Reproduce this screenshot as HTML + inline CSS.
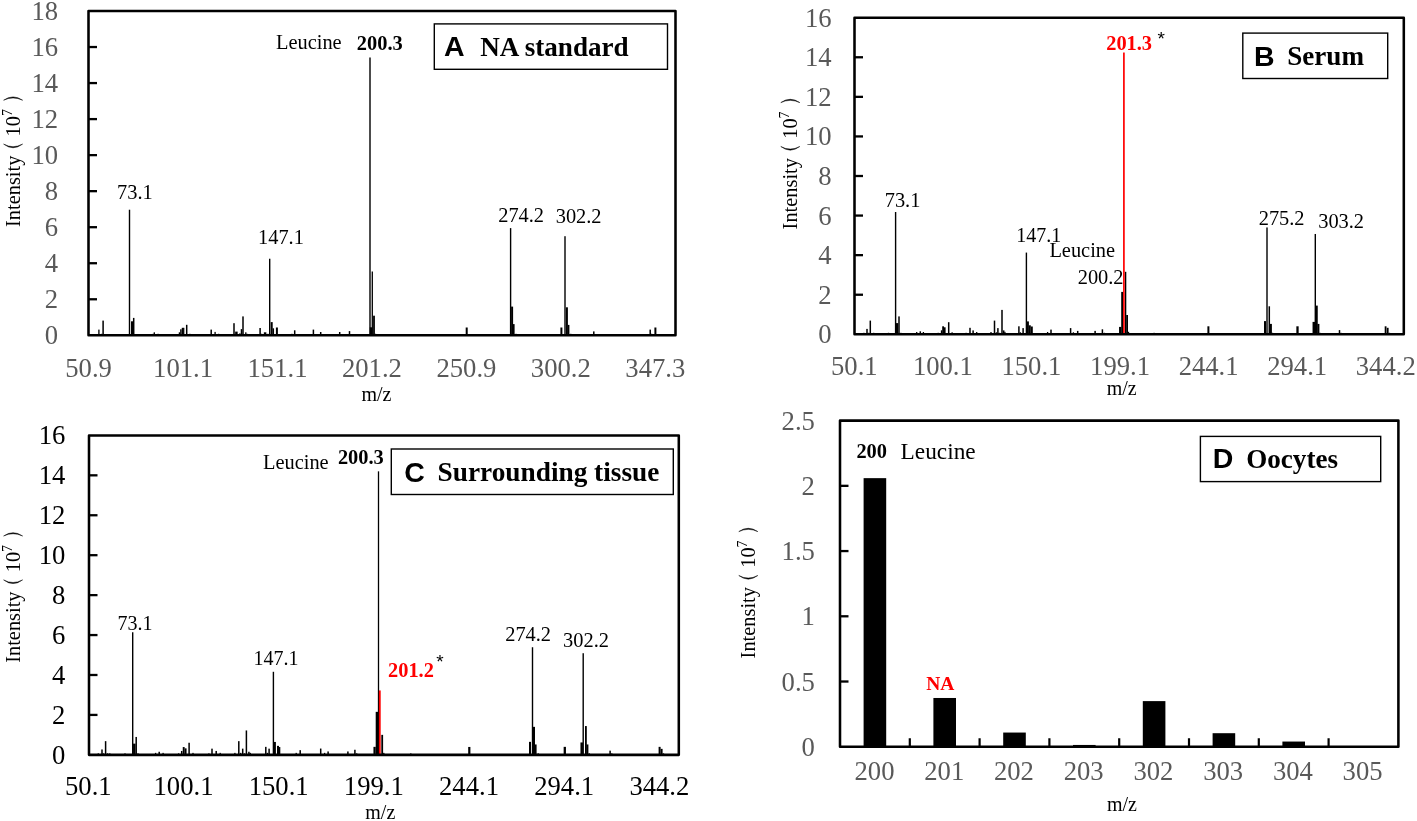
<!DOCTYPE html>
<html>
<head>
<meta charset="utf-8">
<title>Mass spectra</title>
<style>
html,body{margin:0;padding:0;background:#fff;}
body{width:1417px;height:821px;overflow:hidden;font-family:"Liberation Serif",serif;}
svg{display:block;will-change:transform;}
</style>
</head>
<body>
<svg width="1417" height="821" viewBox="0 0 1417 821">
<rect x="0" y="0" width="1417" height="821" fill="#ffffff"/>
<g id="panelA">
<rect x="98.25" y="329.6" width="1.3" height="5.7" fill="#000"/>
<rect x="101.05" y="333.8" width="1.3" height="1.5" fill="#000"/>
<rect x="102.35" y="320.6" width="1.5" height="14.7" fill="#000"/>
<rect x="104.15" y="334.3" width="1.3" height="1" fill="#000"/>
<rect x="128.8" y="209.72" width="1.4" height="125.58" fill="#000"/>
<rect x="131" y="321.3" width="2" height="14" fill="#000"/>
<rect x="132.95" y="317.9" width="1.5" height="17.4" fill="#000"/>
<rect x="152.55" y="333.8" width="1.3" height="1.5" fill="#000"/>
<rect x="153.65" y="332.3" width="1.3" height="3" fill="#000"/>
<rect x="157.45" y="333.8" width="1.3" height="1.5" fill="#000"/>
<rect x="178.75" y="332.3" width="1.3" height="3" fill="#000"/>
<rect x="180.15" y="329.3" width="1.5" height="6" fill="#000"/>
<rect x="181.75" y="327.8" width="1.5" height="7.5" fill="#000"/>
<rect x="183.05" y="327.8" width="1.3" height="7.5" fill="#000"/>
<rect x="185.95" y="324.8" width="1.5" height="10.5" fill="#000"/>
<rect x="189.25" y="333.8" width="1.3" height="1.5" fill="#000"/>
<rect x="210.45" y="329.6" width="1.5" height="5.7" fill="#000"/>
<rect x="214.45" y="331.9" width="1.3" height="3.4" fill="#000"/>
<rect x="217.95" y="333.8" width="1.3" height="1.5" fill="#000"/>
<rect x="233.25" y="323.2" width="1.5" height="12.1" fill="#000"/>
<rect x="235.15" y="331.6" width="2.5" height="3.7" fill="#000"/>
<rect x="239.25" y="333.3" width="1.3" height="2" fill="#000"/>
<rect x="240.75" y="329.1" width="1.5" height="6.2" fill="#000"/>
<rect x="242.25" y="316.4" width="1.5" height="18.9" fill="#000"/>
<rect x="245.15" y="332.3" width="1.3" height="3" fill="#000"/>
<rect x="246.35" y="333.8" width="1.3" height="1.5" fill="#000"/>
<rect x="259.35" y="328" width="1.5" height="7.3" fill="#000"/>
<rect x="260.95" y="333.8" width="1.3" height="1.5" fill="#000"/>
<rect x="263.85" y="332.3" width="2.5" height="3" fill="#000"/>
<rect x="267.25" y="333.8" width="1.3" height="1.5" fill="#000"/>
<rect x="269" y="258.73" width="1.4" height="76.57" fill="#000"/>
<rect x="270.7" y="322.1" width="2" height="13.2" fill="#000"/>
<rect x="272.55" y="328.3" width="1.5" height="7" fill="#000"/>
<rect x="275.9" y="327.5" width="2" height="7.8" fill="#000"/>
<rect x="291.25" y="333.8" width="1.3" height="1.5" fill="#000"/>
<rect x="293.95" y="330.3" width="1.5" height="5" fill="#000"/>
<rect x="312.65" y="329.6" width="1.5" height="5.7" fill="#000"/>
<rect x="319.95" y="332" width="1.5" height="3.3" fill="#000"/>
<rect x="338.95" y="332" width="1.5" height="3.3" fill="#000"/>
<rect x="348.75" y="331.1" width="1.5" height="4.2" fill="#000"/>
<rect x="369.3" y="57.48" width="1.4" height="277.82" fill="#000"/>
<rect x="369.75" y="327.3" width="2.5" height="8" fill="#000"/>
<rect x="371.65" y="271.5" width="1.3" height="63.8" fill="#000"/>
<rect x="373.1" y="315.7" width="1.8" height="19.6" fill="#000"/>
<rect x="374.85" y="333.8" width="1.3" height="1.5" fill="#000"/>
<rect x="465.7" y="327.5" width="2" height="7.8" fill="#000"/>
<rect x="509.9" y="228.1" width="1.4" height="107.2" fill="#000"/>
<rect x="511.1" y="306.6" width="2" height="28.7" fill="#000"/>
<rect x="512.8" y="324.1" width="1.8" height="11.2" fill="#000"/>
<rect x="515.35" y="333.8" width="1.3" height="1.5" fill="#000"/>
<rect x="560.4" y="327.5" width="2" height="7.8" fill="#000"/>
<rect x="564.3" y="236.21" width="1.4" height="99.09" fill="#000"/>
<rect x="565.9" y="307.3" width="2" height="28" fill="#000"/>
<rect x="567.6" y="324.9" width="1.8" height="10.4" fill="#000"/>
<rect x="570.15" y="333.8" width="1.3" height="1.5" fill="#000"/>
<rect x="593.05" y="331.4" width="1.5" height="3.9" fill="#000"/>
<rect x="649.45" y="329.6" width="1.5" height="5.7" fill="#000"/>
<rect x="650.95" y="333.8" width="1.3" height="1.5" fill="#000"/>
<rect x="654.4" y="327.5" width="2" height="7.8" fill="#000"/>
<rect x="88.5" y="11" width="587" height="324.3" fill="none" stroke="#000" stroke-width="2.55" stroke-linejoin="round"/>
<line x1="88.5" y1="299.27" x2="97" y2="299.27" stroke="#000" stroke-width="2.3"/>
<line x1="88.5" y1="263.23" x2="97" y2="263.23" stroke="#000" stroke-width="2.3"/>
<line x1="88.5" y1="227.2" x2="97" y2="227.2" stroke="#000" stroke-width="2.3"/>
<line x1="88.5" y1="191.17" x2="97" y2="191.17" stroke="#000" stroke-width="2.3"/>
<line x1="88.5" y1="155.13" x2="97" y2="155.13" stroke="#000" stroke-width="2.3"/>
<line x1="88.5" y1="119.1" x2="97" y2="119.1" stroke="#000" stroke-width="2.3"/>
<line x1="88.5" y1="83.07" x2="97" y2="83.07" stroke="#000" stroke-width="2.3"/>
<line x1="88.5" y1="47.03" x2="97" y2="47.03" stroke="#000" stroke-width="2.3"/>
<text x="58.2" y="344.3" font-size="26.67" text-anchor="end" fill="#595959" font-family="'Liberation Serif', serif">0</text>
<text x="58.2" y="308.27" font-size="26.67" text-anchor="end" fill="#595959" font-family="'Liberation Serif', serif">2</text>
<text x="58.2" y="272.23" font-size="26.67" text-anchor="end" fill="#595959" font-family="'Liberation Serif', serif">4</text>
<text x="58.2" y="236.2" font-size="26.67" text-anchor="end" fill="#595959" font-family="'Liberation Serif', serif">6</text>
<text x="58.2" y="200.17" font-size="26.67" text-anchor="end" fill="#595959" font-family="'Liberation Serif', serif">8</text>
<text x="58.2" y="164.13" font-size="26.67" text-anchor="end" fill="#595959" font-family="'Liberation Serif', serif">10</text>
<text x="58.2" y="128.1" font-size="26.67" text-anchor="end" fill="#595959" font-family="'Liberation Serif', serif">12</text>
<text x="58.2" y="92.07" font-size="26.67" text-anchor="end" fill="#595959" font-family="'Liberation Serif', serif">14</text>
<text x="58.2" y="56.03" font-size="26.67" text-anchor="end" fill="#595959" font-family="'Liberation Serif', serif">16</text>
<text x="58.2" y="20" font-size="26.67" text-anchor="end" fill="#595959" font-family="'Liberation Serif', serif">18</text>
<text x="88.6" y="376.6" font-size="26.67" text-anchor="middle" fill="#595959" font-family="'Liberation Serif', serif">50.9</text>
<text x="183.05" y="376.6" font-size="26.67" text-anchor="middle" fill="#595959" font-family="'Liberation Serif', serif">101.1</text>
<text x="277.5" y="376.6" font-size="26.67" text-anchor="middle" fill="#595959" font-family="'Liberation Serif', serif">151.1</text>
<text x="371.95" y="376.6" font-size="26.67" text-anchor="middle" fill="#595959" font-family="'Liberation Serif', serif">201.2</text>
<text x="466.4" y="376.6" font-size="26.67" text-anchor="middle" fill="#595959" font-family="'Liberation Serif', serif">250.9</text>
<text x="560.85" y="376.6" font-size="26.67" text-anchor="middle" fill="#595959" font-family="'Liberation Serif', serif">300.2</text>
<text x="655.3" y="376.6" font-size="26.67" text-anchor="middle" fill="#595959" font-family="'Liberation Serif', serif">347.3</text>
<text x="376.5" y="400.5" font-size="20" text-anchor="middle" fill="#000" font-family="'Liberation Serif', serif">m/z</text>
<g transform="translate(20,227) rotate(-90)">
<text x="0" y="0" font-size="20.4" text-anchor="start" fill="#000" font-family="'Liberation Serif', serif">Intensity</text>
<text x="90.6" y="0" font-size="20.4" text-anchor="start" fill="#000" font-family="'Liberation Serif', serif">10</text>
<text x="110.9" y="-8.4" font-size="13.6" text-anchor="start" fill="#000" font-family="'Liberation Serif', serif">7</text>
<path d="M82.9,-16.4 Q75.6,-7 82.9,2.6 Q77.7,-7 82.9,-16.4Z" fill="#000" stroke="#000" stroke-width="0.5" stroke-linejoin="round"/>
<path d="M126.8,-16.4 Q133.4,-7 126.8,2.6 Q131.3,-7 126.8,-16.4Z" fill="#000" stroke="#000" stroke-width="0.5" stroke-linejoin="round"/>
</g>
<text x="117" y="198.5" font-size="20.4" text-anchor="start" fill="#000" font-family="'Liberation Serif', serif">73.1</text>
<text x="258" y="243.5" font-size="20.4" text-anchor="start" fill="#000" font-family="'Liberation Serif', serif">147.1</text>
<text x="276" y="49.3" font-size="20.4" text-anchor="start" fill="#000" font-family="'Liberation Serif', serif">Leucine</text>
<text x="356.8" y="49.5" font-size="20.4" text-anchor="start" fill="#000" font-weight="bold" font-family="'Liberation Serif', serif">200.3</text>
<text x="498.2" y="221.8" font-size="20.4" text-anchor="start" fill="#000" font-family="'Liberation Serif', serif">274.2</text>
<text x="555.7" y="223.4" font-size="20.4" text-anchor="start" fill="#000" font-family="'Liberation Serif', serif">302.2</text>
<rect x="434.3" y="23.9" width="233.2" height="45.4" fill="#fff" stroke="#000" stroke-width="1.4"/>
<text x="443.9" y="55.8" font-size="28.5" text-anchor="start" fill="#000" font-weight="bold" font-family="'Liberation Sans', sans-serif">A</text>
<text x="480.3" y="55.8" font-size="27.1" text-anchor="start" fill="#000" font-weight="bold" font-family="'Liberation Serif', serif">NA standard</text>
</g>
<g id="panelB">
<rect x="863.25" y="332.8" width="1.3" height="1.5" fill="#000"/>
<rect x="866.25" y="328.9" width="1.5" height="5.4" fill="#000"/>
<rect x="867.95" y="332.8" width="1.3" height="1.5" fill="#000"/>
<rect x="869.55" y="320.6" width="1.5" height="13.7" fill="#000"/>
<rect x="873.05" y="332.8" width="1.3" height="1.5" fill="#000"/>
<rect x="887.85" y="332.8" width="1.3" height="1.5" fill="#000"/>
<rect x="894.9" y="212.01" width="1.4" height="122.29" fill="#000"/>
<rect x="895.75" y="323.1" width="2.5" height="11.2" fill="#000"/>
<rect x="898.25" y="316.4" width="1.5" height="17.9" fill="#000"/>
<rect x="900.25" y="332.8" width="1.3" height="1.5" fill="#000"/>
<rect x="916.05" y="332" width="1.3" height="2.3" fill="#000"/>
<rect x="919.55" y="331.3" width="1.5" height="3" fill="#000"/>
<rect x="922.75" y="332" width="1.3" height="2.3" fill="#000"/>
<rect x="937.55" y="332.8" width="1.3" height="1.5" fill="#000"/>
<rect x="940.85" y="330.3" width="1.5" height="4" fill="#000"/>
<rect x="942.2" y="326.3" width="1.8" height="8" fill="#000"/>
<rect x="943.8" y="327.3" width="1.8" height="7" fill="#000"/>
<rect x="947.95" y="322.2" width="1.5" height="12.1" fill="#000"/>
<rect x="951.45" y="332.3" width="1.3" height="2" fill="#000"/>
<rect x="965.45" y="332.8" width="1.3" height="1.5" fill="#000"/>
<rect x="969.25" y="327.8" width="1.5" height="6.5" fill="#000"/>
<rect x="972.35" y="330.4" width="1.5" height="3.9" fill="#000"/>
<rect x="976.05" y="332" width="1.3" height="2.3" fill="#000"/>
<rect x="990.35" y="332" width="1.3" height="2.3" fill="#000"/>
<rect x="993.75" y="320.6" width="1.5" height="13.7" fill="#000"/>
<rect x="995.75" y="332.3" width="1.3" height="2" fill="#000"/>
<rect x="997.15" y="328.1" width="1.5" height="6.2" fill="#000"/>
<rect x="998.85" y="332.8" width="1.3" height="1.5" fill="#000"/>
<rect x="1001.25" y="309.9" width="1.5" height="24.4" fill="#000"/>
<rect x="1002.95" y="330.4" width="1.5" height="3.9" fill="#000"/>
<rect x="1004.25" y="331.8" width="1.3" height="2.5" fill="#000"/>
<rect x="1018.15" y="326.3" width="1.5" height="8" fill="#000"/>
<rect x="1019.75" y="332.3" width="1.3" height="2" fill="#000"/>
<rect x="1022.35" y="328.1" width="1.5" height="6.2" fill="#000"/>
<rect x="1025.7" y="252.58" width="1.4" height="81.72" fill="#000"/>
<rect x="1026.9" y="321.4" width="2" height="12.9" fill="#000"/>
<rect x="1028.8" y="325.3" width="2" height="9" fill="#000"/>
<rect x="1030.8" y="326.5" width="2" height="7.8" fill="#000"/>
<rect x="1046.95" y="332" width="1.3" height="2.3" fill="#000"/>
<rect x="1050.25" y="329.6" width="1.5" height="4.7" fill="#000"/>
<rect x="1069.85" y="328.1" width="1.5" height="6.2" fill="#000"/>
<rect x="1072.75" y="332.3" width="1.3" height="2" fill="#000"/>
<rect x="1076.95" y="330.9" width="1.5" height="3.4" fill="#000"/>
<rect x="1094.35" y="330.9" width="1.5" height="3.4" fill="#000"/>
<rect x="1101.65" y="329.3" width="1.5" height="5" fill="#000"/>
<rect x="1103.75" y="332.8" width="1.3" height="1.5" fill="#000"/>
<rect x="1153.45" y="332.8" width="1.3" height="1.5" fill="#000"/>
<rect x="1207.4" y="326.3" width="2" height="8" fill="#000"/>
<rect x="1264" y="321.1" width="2" height="13.2" fill="#000"/>
<rect x="1266.3" y="227.45" width="1.4" height="106.85" fill="#000"/>
<rect x="1268.55" y="306.3" width="1.5" height="28" fill="#000"/>
<rect x="1269.9" y="323.9" width="2" height="10.4" fill="#000"/>
<rect x="1271.85" y="332.8" width="1.3" height="1.5" fill="#000"/>
<rect x="1296.35" y="326.3" width="2.3" height="8" fill="#000"/>
<rect x="1312.55" y="321.9" width="2.5" height="12.4" fill="#000"/>
<rect x="1314.6" y="233.98" width="1.4" height="100.32" fill="#000"/>
<rect x="1315.45" y="305.6" width="2.3" height="28.7" fill="#000"/>
<rect x="1317.4" y="323.9" width="2" height="10.4" fill="#000"/>
<rect x="1319.35" y="332.8" width="1.3" height="1.5" fill="#000"/>
<rect x="1338.75" y="330.1" width="1.5" height="4.2" fill="#000"/>
<rect x="1340.35" y="332.8" width="1.3" height="1.5" fill="#000"/>
<rect x="1384.7" y="326.3" width="1.8" height="8" fill="#000"/>
<rect x="1386.8" y="327.8" width="1.8" height="6.5" fill="#000"/>
<rect x="1388.85" y="332.8" width="1.3" height="1.5" fill="#000"/>
<rect x="1119.05" y="326.9" width="2.3" height="7.4" fill="#000"/>
<rect x="1121.2" y="291.9" width="2" height="42.4" fill="#000"/>
<rect x="1124.9" y="271.8" width="1.4" height="62.5" fill="#000"/>
<rect x="1126.2" y="315" width="1.8" height="19.3" fill="#000"/>
<rect x="1127.85" y="331.8" width="1.3" height="2.5" fill="#000"/>
<rect x="1123.05" y="52.53" width="1.7" height="281.77" fill="#f00"/>
<rect x="854.5" y="17.7" width="549.3" height="316.6" fill="none" stroke="#000" stroke-width="2.55" stroke-linejoin="round"/>
<line x1="854.5" y1="294.73" x2="863" y2="294.73" stroke="#000" stroke-width="2.3"/>
<line x1="854.5" y1="255.15" x2="863" y2="255.15" stroke="#000" stroke-width="2.3"/>
<line x1="854.5" y1="215.57" x2="863" y2="215.57" stroke="#000" stroke-width="2.3"/>
<line x1="854.5" y1="176" x2="863" y2="176" stroke="#000" stroke-width="2.3"/>
<line x1="854.5" y1="136.43" x2="863" y2="136.43" stroke="#000" stroke-width="2.3"/>
<line x1="854.5" y1="96.85" x2="863" y2="96.85" stroke="#000" stroke-width="2.3"/>
<line x1="854.5" y1="57.27" x2="863" y2="57.27" stroke="#000" stroke-width="2.3"/>
<text x="831.6" y="343.3" font-size="26.67" text-anchor="end" fill="#595959" font-family="'Liberation Serif', serif">0</text>
<text x="831.6" y="303.73" font-size="26.67" text-anchor="end" fill="#595959" font-family="'Liberation Serif', serif">2</text>
<text x="831.6" y="264.15" font-size="26.67" text-anchor="end" fill="#595959" font-family="'Liberation Serif', serif">4</text>
<text x="831.6" y="224.57" font-size="26.67" text-anchor="end" fill="#595959" font-family="'Liberation Serif', serif">6</text>
<text x="831.6" y="185" font-size="26.67" text-anchor="end" fill="#595959" font-family="'Liberation Serif', serif">8</text>
<text x="831.6" y="145.43" font-size="26.67" text-anchor="end" fill="#595959" font-family="'Liberation Serif', serif">10</text>
<text x="831.6" y="105.85" font-size="26.67" text-anchor="end" fill="#595959" font-family="'Liberation Serif', serif">12</text>
<text x="831.6" y="66.27" font-size="26.67" text-anchor="end" fill="#595959" font-family="'Liberation Serif', serif">14</text>
<text x="831.6" y="26.7" font-size="26.67" text-anchor="end" fill="#595959" font-family="'Liberation Serif', serif">16</text>
<text x="854.3" y="374.8" font-size="26.67" text-anchor="middle" fill="#595959" font-family="'Liberation Serif', serif">50.1</text>
<text x="942.88" y="374.8" font-size="26.67" text-anchor="middle" fill="#595959" font-family="'Liberation Serif', serif">100.1</text>
<text x="1031.46" y="374.8" font-size="26.67" text-anchor="middle" fill="#595959" font-family="'Liberation Serif', serif">150.1</text>
<text x="1120.04" y="374.8" font-size="26.67" text-anchor="middle" fill="#595959" font-family="'Liberation Serif', serif">199.1</text>
<text x="1208.62" y="374.8" font-size="26.67" text-anchor="middle" fill="#595959" font-family="'Liberation Serif', serif">244.1</text>
<text x="1297.2" y="374.8" font-size="26.67" text-anchor="middle" fill="#595959" font-family="'Liberation Serif', serif">294.1</text>
<text x="1385.78" y="374.8" font-size="26.67" text-anchor="middle" fill="#595959" font-family="'Liberation Serif', serif">344.2</text>
<text x="1121.7" y="395" font-size="20" text-anchor="middle" fill="#000" font-family="'Liberation Serif', serif">m/z</text>
<g transform="translate(797.2,229.4) rotate(-90)">
<text x="0" y="0" font-size="20.4" text-anchor="start" fill="#000" font-family="'Liberation Serif', serif">Intensity</text>
<text x="90.6" y="0" font-size="20.4" text-anchor="start" fill="#000" font-family="'Liberation Serif', serif">10</text>
<text x="110.9" y="-8.4" font-size="13.6" text-anchor="start" fill="#000" font-family="'Liberation Serif', serif">7</text>
<path d="M82.9,-16.4 Q75.6,-7 82.9,2.6 Q77.7,-7 82.9,-16.4Z" fill="#000" stroke="#000" stroke-width="0.5" stroke-linejoin="round"/>
<path d="M126.8,-16.4 Q133.4,-7 126.8,2.6 Q131.3,-7 126.8,-16.4Z" fill="#000" stroke="#000" stroke-width="0.5" stroke-linejoin="round"/>
</g>
<text x="884.7" y="207.2" font-size="20.4" text-anchor="start" fill="#000" font-family="'Liberation Serif', serif">73.1</text>
<text x="1016.2" y="242.4" font-size="20" text-anchor="start" fill="#000" font-family="'Liberation Serif', serif">147.1</text>
<text x="1049.4" y="257" font-size="20.4" text-anchor="start" fill="#000" font-family="'Liberation Serif', serif">Leucine</text>
<text x="1077.7" y="284" font-size="20.4" text-anchor="start" fill="#000" font-family="'Liberation Serif', serif">200.2</text>
<text x="1106.2" y="50" font-size="20.4" text-anchor="start" fill="#f00" font-weight="bold" font-family="'Liberation Serif', serif">201.3</text>
<text x="1157.6" y="45.4" font-size="19" text-anchor="start" fill="#000" font-family="'Liberation Sans', sans-serif">*</text>
<text x="1258.7" y="224.5" font-size="20.4" text-anchor="start" fill="#000" font-family="'Liberation Serif', serif">275.2</text>
<text x="1318.2" y="227.7" font-size="20.4" text-anchor="start" fill="#000" font-family="'Liberation Serif', serif">303.2</text>
<rect x="1242.8" y="33.1" width="144.9" height="45.4" fill="#fff" stroke="#000" stroke-width="1.4"/>
<text x="1254" y="66.1" font-size="28.5" text-anchor="start" fill="#000" font-weight="bold" font-family="'Liberation Sans', sans-serif">B</text>
<text x="1287.2" y="64.9" font-size="27.1" text-anchor="start" fill="#000" font-weight="bold" font-family="'Liberation Serif', serif">Serum</text>
</g>
<g id="panelC">
<rect x="97.65" y="753.35" width="1.3" height="1.5" fill="#000"/>
<rect x="101.25" y="749.45" width="1.5" height="5.4" fill="#000"/>
<rect x="102.95" y="753.35" width="1.3" height="1.5" fill="#000"/>
<rect x="104.85" y="741.15" width="1.5" height="13.7" fill="#000"/>
<rect x="106.95" y="753.35" width="1.3" height="1.5" fill="#000"/>
<rect x="109.15" y="753.35" width="1.3" height="1.5" fill="#000"/>
<rect x="124.35" y="753.35" width="1.3" height="1.5" fill="#000"/>
<rect x="132" y="632.26" width="1.4" height="122.59" fill="#000"/>
<rect x="133.05" y="743.65" width="2.5" height="11.2" fill="#000"/>
<rect x="135.45" y="736.95" width="1.5" height="17.9" fill="#000"/>
<rect x="137.35" y="753.35" width="1.3" height="1.5" fill="#000"/>
<rect x="154.95" y="752.85" width="1.3" height="2" fill="#000"/>
<rect x="158.45" y="751.75" width="1.5" height="3.1" fill="#000"/>
<rect x="162.45" y="752.85" width="1.3" height="2" fill="#000"/>
<rect x="177.95" y="753.35" width="1.3" height="1.5" fill="#000"/>
<rect x="180.95" y="750.95" width="1.5" height="3.9" fill="#000"/>
<rect x="182.75" y="747.05" width="1.9" height="7.8" fill="#000"/>
<rect x="184.65" y="748.35" width="1.9" height="6.5" fill="#000"/>
<rect x="188.35" y="742.75" width="1.5" height="12.1" fill="#000"/>
<rect x="192.35" y="752.85" width="1.3" height="2" fill="#000"/>
<rect x="208.25" y="753.35" width="1.3" height="1.5" fill="#000"/>
<rect x="211.25" y="748.65" width="1.5" height="6.2" fill="#000"/>
<rect x="215.45" y="750.95" width="1.5" height="3.9" fill="#000"/>
<rect x="219.55" y="752.85" width="1.3" height="2" fill="#000"/>
<rect x="234.25" y="752.85" width="1.3" height="2" fill="#000"/>
<rect x="238.05" y="741.15" width="1.5" height="13.7" fill="#000"/>
<rect x="240.05" y="752.85" width="1.3" height="2" fill="#000"/>
<rect x="241.95" y="748.65" width="1.5" height="6.2" fill="#000"/>
<rect x="243.85" y="753.35" width="1.3" height="1.5" fill="#000"/>
<rect x="245.65" y="730.45" width="1.5" height="24.4" fill="#000"/>
<rect x="248.15" y="751.75" width="1.5" height="3.1" fill="#000"/>
<rect x="249.65" y="752.85" width="1.3" height="2" fill="#000"/>
<rect x="265.05" y="746.85" width="1.5" height="8" fill="#000"/>
<rect x="266.75" y="752.85" width="1.3" height="2" fill="#000"/>
<rect x="268.35" y="748.65" width="1.5" height="6.2" fill="#000"/>
<rect x="272.7" y="671.79" width="1.4" height="83.06" fill="#000"/>
<rect x="273.9" y="741.95" width="2" height="12.9" fill="#000"/>
<rect x="277" y="745.85" width="2" height="9" fill="#000"/>
<rect x="278.3" y="747.05" width="2" height="7.8" fill="#000"/>
<rect x="295.55" y="752.85" width="1.3" height="2" fill="#000"/>
<rect x="299.45" y="750.15" width="1.5" height="4.7" fill="#000"/>
<rect x="319.95" y="748.55" width="1.5" height="6.3" fill="#000"/>
<rect x="323.95" y="752.85" width="1.3" height="2" fill="#000"/>
<rect x="327.35" y="751.45" width="1.5" height="3.4" fill="#000"/>
<rect x="347.15" y="751.45" width="1.5" height="3.4" fill="#000"/>
<rect x="354.15" y="749.75" width="1.5" height="5.1" fill="#000"/>
<rect x="356.05" y="753.35" width="1.3" height="1.5" fill="#000"/>
<rect x="410.15" y="753.35" width="1.3" height="1.5" fill="#000"/>
<rect x="468.2" y="746.95" width="2.2" height="7.9" fill="#000"/>
<rect x="529" y="741.85" width="2" height="13" fill="#000"/>
<rect x="531.8" y="647.24" width="1.4" height="107.61" fill="#000"/>
<rect x="532.8" y="726.85" width="2.2" height="28" fill="#000"/>
<rect x="534.6" y="744.45" width="2" height="10.4" fill="#000"/>
<rect x="537.55" y="753.35" width="1.3" height="1.5" fill="#000"/>
<rect x="563.65" y="746.85" width="2.3" height="8" fill="#000"/>
<rect x="580.45" y="742.45" width="2.5" height="12.4" fill="#000"/>
<rect x="582.5" y="653.22" width="1.4" height="101.63" fill="#000"/>
<rect x="585" y="726.05" width="1.8" height="28.8" fill="#000"/>
<rect x="586.4" y="744.45" width="2" height="10.4" fill="#000"/>
<rect x="588.65" y="753.35" width="1.3" height="1.5" fill="#000"/>
<rect x="609.35" y="750.65" width="1.5" height="4.2" fill="#000"/>
<rect x="611.15" y="753.35" width="1.3" height="1.5" fill="#000"/>
<rect x="658.6" y="746.85" width="2" height="8" fill="#000"/>
<rect x="660.6" y="748.85" width="2" height="6" fill="#000"/>
<rect x="662.85" y="753.35" width="1.3" height="1.5" fill="#000"/>
<rect x="373.45" y="746.85" width="2.3" height="8" fill="#000"/>
<rect x="375.7" y="711.85" width="2.4" height="43" fill="#000"/>
<rect x="377.85" y="471.34" width="1.3" height="283.51" fill="#000"/>
<rect x="381.3" y="734.85" width="1.8" height="20" fill="#000"/>
<rect x="383.15" y="752.85" width="1.3" height="2" fill="#000"/>
<rect x="378.9" y="690.45" width="1.8" height="64.4" fill="#f00"/>
<rect x="89" y="435.4" width="589.8" height="319.45" fill="none" stroke="#000" stroke-width="2.55" stroke-linejoin="round"/>
<line x1="89" y1="714.92" x2="97.5" y2="714.92" stroke="#000" stroke-width="2.3"/>
<line x1="89" y1="674.99" x2="97.5" y2="674.99" stroke="#000" stroke-width="2.3"/>
<line x1="89" y1="635.06" x2="97.5" y2="635.06" stroke="#000" stroke-width="2.3"/>
<line x1="89" y1="595.12" x2="97.5" y2="595.12" stroke="#000" stroke-width="2.3"/>
<line x1="89" y1="555.19" x2="97.5" y2="555.19" stroke="#000" stroke-width="2.3"/>
<line x1="89" y1="515.26" x2="97.5" y2="515.26" stroke="#000" stroke-width="2.3"/>
<line x1="89" y1="475.33" x2="97.5" y2="475.33" stroke="#000" stroke-width="2.3"/>
<text x="65.4" y="763.85" font-size="26.67" text-anchor="end" fill="#000" font-family="'Liberation Serif', serif">0</text>
<text x="65.4" y="723.92" font-size="26.67" text-anchor="end" fill="#000" font-family="'Liberation Serif', serif">2</text>
<text x="65.4" y="683.99" font-size="26.67" text-anchor="end" fill="#000" font-family="'Liberation Serif', serif">4</text>
<text x="65.4" y="644.06" font-size="26.67" text-anchor="end" fill="#000" font-family="'Liberation Serif', serif">6</text>
<text x="65.4" y="604.12" font-size="26.67" text-anchor="end" fill="#000" font-family="'Liberation Serif', serif">8</text>
<text x="65.4" y="564.19" font-size="26.67" text-anchor="end" fill="#000" font-family="'Liberation Serif', serif">10</text>
<text x="65.4" y="524.26" font-size="26.67" text-anchor="end" fill="#000" font-family="'Liberation Serif', serif">12</text>
<text x="65.4" y="484.33" font-size="26.67" text-anchor="end" fill="#000" font-family="'Liberation Serif', serif">14</text>
<text x="65.4" y="444.4" font-size="26.67" text-anchor="end" fill="#000" font-family="'Liberation Serif', serif">16</text>
<text x="88.3" y="795" font-size="26.67" text-anchor="middle" fill="#000" font-family="'Liberation Serif', serif">50.1</text>
<text x="183.48" y="795" font-size="26.67" text-anchor="middle" fill="#000" font-family="'Liberation Serif', serif">100.1</text>
<text x="278.66" y="795" font-size="26.67" text-anchor="middle" fill="#000" font-family="'Liberation Serif', serif">150.1</text>
<text x="373.84" y="795" font-size="26.67" text-anchor="middle" fill="#000" font-family="'Liberation Serif', serif">199.1</text>
<text x="469.02" y="795" font-size="26.67" text-anchor="middle" fill="#000" font-family="'Liberation Serif', serif">244.1</text>
<text x="564.2" y="795" font-size="26.67" text-anchor="middle" fill="#000" font-family="'Liberation Serif', serif">294.1</text>
<text x="659.38" y="795" font-size="26.67" text-anchor="middle" fill="#000" font-family="'Liberation Serif', serif">344.2</text>
<text x="380.3" y="818.7" font-size="20" text-anchor="middle" fill="#000" font-family="'Liberation Serif', serif">m/z</text>
<g transform="translate(20,662.8) rotate(-90)">
<text x="0" y="0" font-size="20.4" text-anchor="start" fill="#000" font-family="'Liberation Serif', serif">Intensity</text>
<text x="90.6" y="0" font-size="20.4" text-anchor="start" fill="#000" font-family="'Liberation Serif', serif">10</text>
<text x="110.9" y="-8.4" font-size="13.6" text-anchor="start" fill="#000" font-family="'Liberation Serif', serif">7</text>
<path d="M82.9,-16.4 Q75.6,-7 82.9,2.6 Q77.7,-7 82.9,-16.4Z" fill="#000" stroke="#000" stroke-width="0.5" stroke-linejoin="round"/>
<path d="M126.8,-16.4 Q133.4,-7 126.8,2.6 Q131.3,-7 126.8,-16.4Z" fill="#000" stroke="#000" stroke-width="0.5" stroke-linejoin="round"/>
</g>
<text x="117.4" y="630" font-size="20" text-anchor="start" fill="#000" font-family="'Liberation Serif', serif">73.1</text>
<text x="253.4" y="664.8" font-size="20" text-anchor="start" fill="#000" font-family="'Liberation Serif', serif">147.1</text>
<text x="263" y="468.7" font-size="20.4" text-anchor="start" fill="#000" font-family="'Liberation Serif', serif">Leucine</text>
<text x="337.9" y="464.2" font-size="20.4" text-anchor="start" fill="#000" font-weight="bold" font-family="'Liberation Serif', serif">200.3</text>
<text x="388" y="677" font-size="20.4" text-anchor="start" fill="#f00" font-weight="bold" font-family="'Liberation Serif', serif">201.2</text>
<text x="436.3" y="668.1" font-size="19" text-anchor="start" fill="#000" font-family="'Liberation Sans', sans-serif">*</text>
<text x="505.2" y="640.7" font-size="20.4" text-anchor="start" fill="#000" font-family="'Liberation Serif', serif">274.2</text>
<text x="563.1" y="647" font-size="20.4" text-anchor="start" fill="#000" font-family="'Liberation Serif', serif">302.2</text>
<rect x="391.3" y="449" width="282" height="45.5" fill="#fff" stroke="#000" stroke-width="1.4"/>
<text x="404.3" y="481.9" font-size="28.5" text-anchor="start" fill="#000" font-weight="bold" font-family="'Liberation Sans', sans-serif">C</text>
<text x="437.6" y="480.8" font-size="27.3" text-anchor="start" fill="#000" font-weight="bold" font-family="'Liberation Serif', serif">Surrounding tissue</text>
</g>
<g id="panelD">
<rect x="863.6" y="478.15" width="22.6" height="268.6" fill="#000"/>
<rect x="933.4" y="697.98" width="22.6" height="48.77" fill="#000"/>
<rect x="1003.2" y="732.55" width="22.6" height="14.2" fill="#000"/>
<rect x="1073" y="744.95" width="22.6" height="1.8" fill="#000"/>
<rect x="1142.8" y="701.11" width="22.6" height="45.64" fill="#000"/>
<rect x="1212.6" y="733.2" width="22.6" height="13.55" fill="#000"/>
<rect x="1282.4" y="741.55" width="22.6" height="5.2" fill="#000"/>
<rect x="840" y="420.6" width="558.4" height="326.15" fill="none" stroke="#000" stroke-width="2.55" stroke-linejoin="round"/>
<line x1="840" y1="681.52" x2="848.5" y2="681.52" stroke="#000" stroke-width="2.3"/>
<line x1="840" y1="616.29" x2="848.5" y2="616.29" stroke="#000" stroke-width="2.3"/>
<line x1="840" y1="551.06" x2="848.5" y2="551.06" stroke="#000" stroke-width="2.3"/>
<line x1="840" y1="485.83" x2="848.5" y2="485.83" stroke="#000" stroke-width="2.3"/>
<line x1="909.8" y1="746.75" x2="909.8" y2="738.25" stroke="#000" stroke-width="2.2"/>
<line x1="979.6" y1="746.75" x2="979.6" y2="738.25" stroke="#000" stroke-width="2.2"/>
<line x1="1049.4" y1="746.75" x2="1049.4" y2="738.25" stroke="#000" stroke-width="2.2"/>
<line x1="1119.2" y1="746.75" x2="1119.2" y2="738.25" stroke="#000" stroke-width="2.2"/>
<line x1="1189" y1="746.75" x2="1189" y2="738.25" stroke="#000" stroke-width="2.2"/>
<line x1="1258.8" y1="746.75" x2="1258.8" y2="738.25" stroke="#000" stroke-width="2.2"/>
<line x1="1328.6" y1="746.75" x2="1328.6" y2="738.25" stroke="#000" stroke-width="2.2"/>
<text x="814.9" y="755.75" font-size="26.67" text-anchor="end" fill="#595959" font-family="'Liberation Serif', serif">0</text>
<text x="814.9" y="690.52" font-size="26.67" text-anchor="end" fill="#595959" font-family="'Liberation Serif', serif">0.5</text>
<text x="814.9" y="625.29" font-size="26.67" text-anchor="end" fill="#595959" font-family="'Liberation Serif', serif">1</text>
<text x="814.9" y="560.06" font-size="26.67" text-anchor="end" fill="#595959" font-family="'Liberation Serif', serif">1.5</text>
<text x="814.9" y="494.83" font-size="26.67" text-anchor="end" fill="#595959" font-family="'Liberation Serif', serif">2</text>
<text x="814.9" y="429.6" font-size="26.67" text-anchor="end" fill="#595959" font-family="'Liberation Serif', serif">2.5</text>
<text x="874.5" y="780.4" font-size="26.67" text-anchor="middle" fill="#595959" font-family="'Liberation Serif', serif">200</text>
<text x="944.23" y="780.4" font-size="26.67" text-anchor="middle" fill="#595959" font-family="'Liberation Serif', serif">201</text>
<text x="1013.96" y="780.4" font-size="26.67" text-anchor="middle" fill="#595959" font-family="'Liberation Serif', serif">202</text>
<text x="1083.69" y="780.4" font-size="26.67" text-anchor="middle" fill="#595959" font-family="'Liberation Serif', serif">203</text>
<text x="1153.42" y="780.4" font-size="26.67" text-anchor="middle" fill="#595959" font-family="'Liberation Serif', serif">302</text>
<text x="1223.15" y="780.4" font-size="26.67" text-anchor="middle" fill="#595959" font-family="'Liberation Serif', serif">303</text>
<text x="1292.88" y="780.4" font-size="26.67" text-anchor="middle" fill="#595959" font-family="'Liberation Serif', serif">304</text>
<text x="1362.61" y="780.4" font-size="26.67" text-anchor="middle" fill="#595959" font-family="'Liberation Serif', serif">305</text>
<text x="1122" y="810.6" font-size="20" text-anchor="middle" fill="#000" font-family="'Liberation Serif', serif">m/z</text>
<g transform="translate(755.2,658.4) rotate(-90)">
<text x="0" y="0" font-size="20.4" text-anchor="start" fill="#000" font-family="'Liberation Serif', serif">Intensity</text>
<text x="90.6" y="0" font-size="20.4" text-anchor="start" fill="#000" font-family="'Liberation Serif', serif">10</text>
<text x="110.9" y="-8.4" font-size="13.6" text-anchor="start" fill="#000" font-family="'Liberation Serif', serif">7</text>
<path d="M82.9,-16.4 Q75.6,-7 82.9,2.6 Q77.7,-7 82.9,-16.4Z" fill="#000" stroke="#000" stroke-width="0.5" stroke-linejoin="round"/>
<path d="M126.8,-16.4 Q133.4,-7 126.8,2.6 Q131.3,-7 126.8,-16.4Z" fill="#000" stroke="#000" stroke-width="0.5" stroke-linejoin="round"/>
</g>
<text x="856.4" y="457.9" font-size="20.4" text-anchor="start" fill="#000" font-weight="bold" font-family="'Liberation Serif', serif">200</text>
<text x="900.6" y="458.9" font-size="23.3" text-anchor="start" fill="#000" font-family="'Liberation Serif', serif">Leucine</text>
<text x="926.2" y="690.3" font-size="19.5" text-anchor="start" fill="#f00" font-weight="bold" font-family="'Liberation Serif', serif">NA</text>
<rect x="1200.4" y="436.4" width="180.3" height="45.2" fill="#fff" stroke="#000" stroke-width="1.4"/>
<text x="1212.8" y="467.7" font-size="28.5" text-anchor="start" fill="#000" font-weight="bold" font-family="'Liberation Sans', sans-serif">D</text>
<text x="1246.2" y="468.3" font-size="27.1" text-anchor="start" fill="#000" font-weight="bold" font-family="'Liberation Serif', serif">Oocytes</text>
</g>
</svg>
</body>
</html>
